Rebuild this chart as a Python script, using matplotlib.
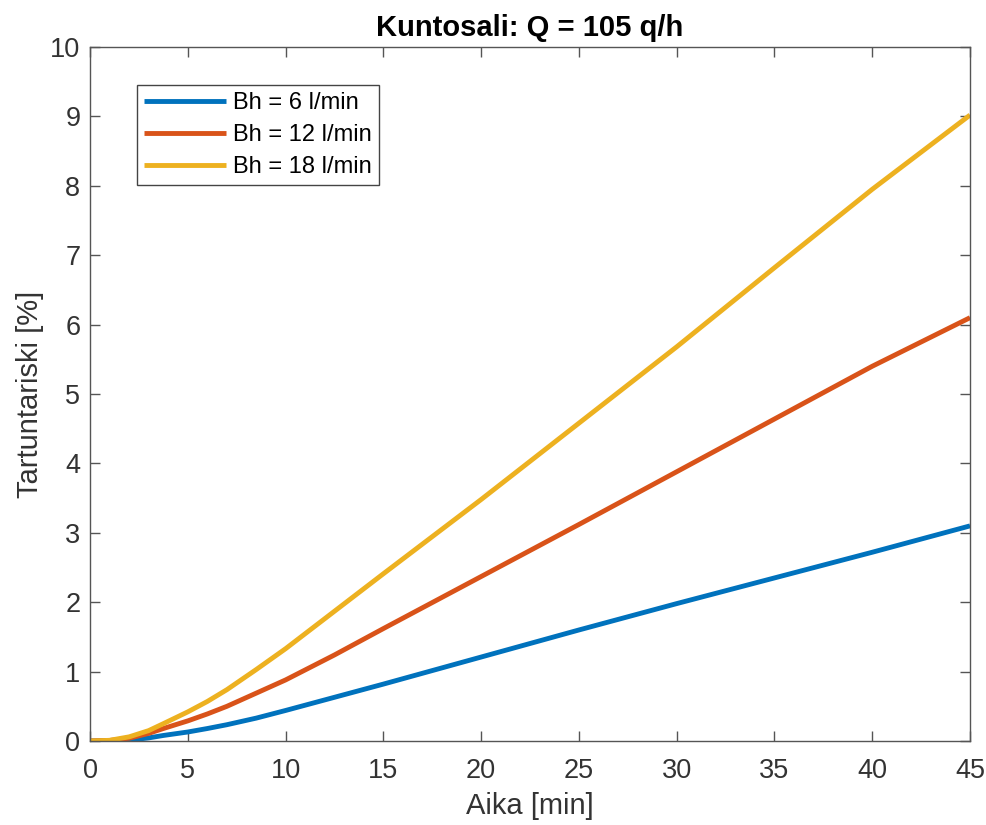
import matplotlib.pyplot as plt

plt.rcParams['font.family'] = ['Liberation Sans', 'DejaVu Sans']

# time axis (min) and read-off infection risk (%)
aika = [0, 1, 2, 3, 3.75, 5, 6, 7, 8.5, 10, 12.5, 15, 20, 25, 30, 35, 40, 45]
bh6 = [0, 0.002, 0.012, 0.045, 0.08, 0.13, 0.18, 0.235, 0.33, 0.44, 0.63,
       0.82, 1.21, 1.6, 1.98, 2.35, 2.72, 3.1]
bh12 = [0, 0.008, 0.04, 0.11, 0.18, 0.29, 0.39, 0.5, 0.69, 0.88, 1.24,
        1.62, 2.37, 3.12, 3.88, 4.64, 5.4, 6.1]
bh18 = [0, 0.01, 0.06, 0.15, 0.25, 0.42, 0.57, 0.74, 1.03, 1.33, 1.87,
        2.41, 3.48, 4.58, 5.68, 6.82, 7.95, 9.02]
labels = ['Bh = 6 l/min', 'Bh = 12 l/min', 'Bh = 18 l/min']
colors = ['#0072BD', '#D95319', '#EDB120']

fig = plt.figure(figsize=(9.87, 8.25), dpi=100)
ax = fig.add_axes([0.0912, 0.1018, 0.8916, 0.8412])

for y, lab, c in zip([bh6, bh12, bh18], labels, colors):
    ax.plot(aika, y, color=c, lw=3.5, label=lab, solid_capstyle='butt')

ax.set_xlim(0, 45)
ax.set_ylim(0, 10)
ax.set_xticks(range(0, 46, 5))
ax.set_yticks(range(0, 11))
ax.tick_params(direction='in', top=True, right=True, length=7, width=1,
               labelsize=19.5, color='#555555', labelcolor='#333333')
ax.tick_params(axis='x', pad=12)
ax.tick_params(axis='y', pad=7)
for s in ax.spines.values():
    s.set_color('#555555')
    s.set_linewidth(1)

ax.set_xlabel('Aika [min]', fontsize=21, color='#333333', labelpad=6)
ax.set_ylabel('Tartuntariski [%]', fontsize=21, color='#333333', labelpad=4)
ax.set_title('Kuntosali: Q = 105 q/h', fontsize=21, fontweight='bold', pad=8)

leg = ax.legend(loc='upper left', bbox_to_anchor=(0.053, 0.945), fontsize=17,
                fancybox=False, edgecolor='#444444', framealpha=1,
                handlelength=3.5, handletextpad=0.3, borderpad=0.3,
                borderaxespad=0, labelspacing=0.42)
leg.get_frame().set_linewidth(1)

fig.savefig('out.png', dpi=100)
